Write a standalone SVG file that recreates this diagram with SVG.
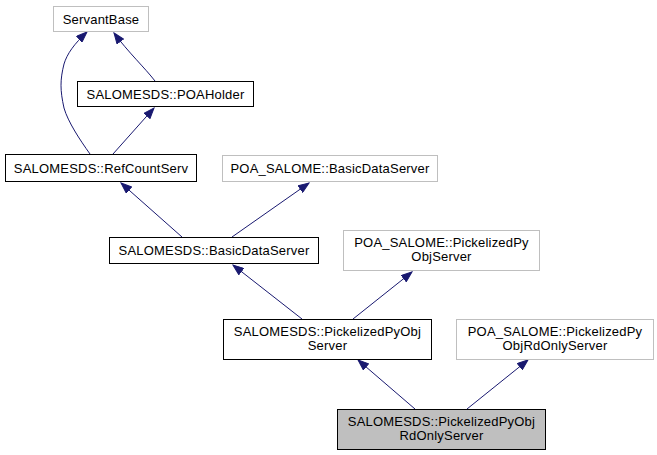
<svg xmlns="http://www.w3.org/2000/svg" width="657" height="455" viewBox="0 0 657 455">
<style>
.n rect{fill:#fff;stroke:#000;stroke-width:1}
.g rect{stroke:#bfbfbf}
.cur rect{fill:#bfbfbf}
text{font-family:"Liberation Sans",Arial,sans-serif;font-size:13px;letter-spacing:0.2px;fill:#000;text-anchor:middle}
.e path{fill:none;stroke:#191970;stroke-width:1;marker-end:url(#ah)}
</style>
<defs>
<marker id="ah" markerUnits="userSpaceOnUse" markerWidth="12" markerHeight="9" refX="11" refY="4.5" orient="auto">
<path d="M0.5,0.5 L11,4.5 L0.5,8.5 z" fill="#191970" stroke="#191970" stroke-width="1"/>
</marker>
</defs>
<rect width="657" height="455" fill="#fff"/>
<g id="edges" class="e">
<path d="M90,154 C80,140 68,122 64,108 C60,90 60,80 64,64 C67,54 74,44 87,32"/>
<path d="M155,81 C145,68 128,52 114,33"/>
<path d="M113,154 L154,108"/>
<path d="M182,237 L121,183"/>
<path d="M232,237 L309,183"/>
<path d="M302,319 L233,265"/>
<path d="M353,319 L412,272"/>
<path d="M415,409 L358,360"/>
<path d="M467,409 L528,360"/>
</g>
<g id="ServantBase" class="n g"><rect x="53.5" y="6.5" width="95" height="25"/><text x="101" y="23.5">ServantBase</text></g>
<g id="POAHolder" class="n"><rect x="77.5" y="81.5" width="176" height="25"/><text x="165.5" y="98.5">SALOMESDS::POAHolder</text></g>
<g id="RefCountServ" class="n"><rect x="5.5" y="154.5" width="191" height="27"/><text x="101" y="172.5">SALOMESDS::RefCountServ</text></g>
<g id="POABasicDataServer" class="n g"><rect x="222.5" y="155.5" width="215" height="26"/><text x="330" y="172.5">POA_SALOME::BasicDataServer</text></g>
<g id="BasicDataServer" class="n"><rect x="109.5" y="237.5" width="209" height="26"/><text x="214" y="255">SALOMESDS::BasicDataServer</text></g>
<g id="POAPickelizedPyObjServer" class="n g"><rect x="343.5" y="230.5" width="196" height="40"/><text x="441.5" y="247">POA_SALOME::PickelizedPy</text><text x="441.5" y="261">ObjServer</text></g>
<g id="PickelizedPyObjServer" class="n"><rect x="223.5" y="319.5" width="208" height="40"/><text x="327.5" y="336">SALOMESDS::PickelizedPyObj</text><text x="327.5" y="350">Server</text></g>
<g id="POAPickelizedPyObjRdOnlyServer" class="n g"><rect x="456.5" y="319.5" width="197" height="40"/><text x="555" y="336">POA_SALOME::PickelizedPy</text><text x="555" y="350">ObjRdOnlyServer</text></g>
<g id="PickelizedPyObjRdOnlyServer" class="n cur"><rect x="337.5" y="409.5" width="208" height="40"/><text x="441.5" y="426">SALOMESDS::PickelizedPyObj</text><text x="441.5" y="440">RdOnlyServer</text></g>
</svg>
